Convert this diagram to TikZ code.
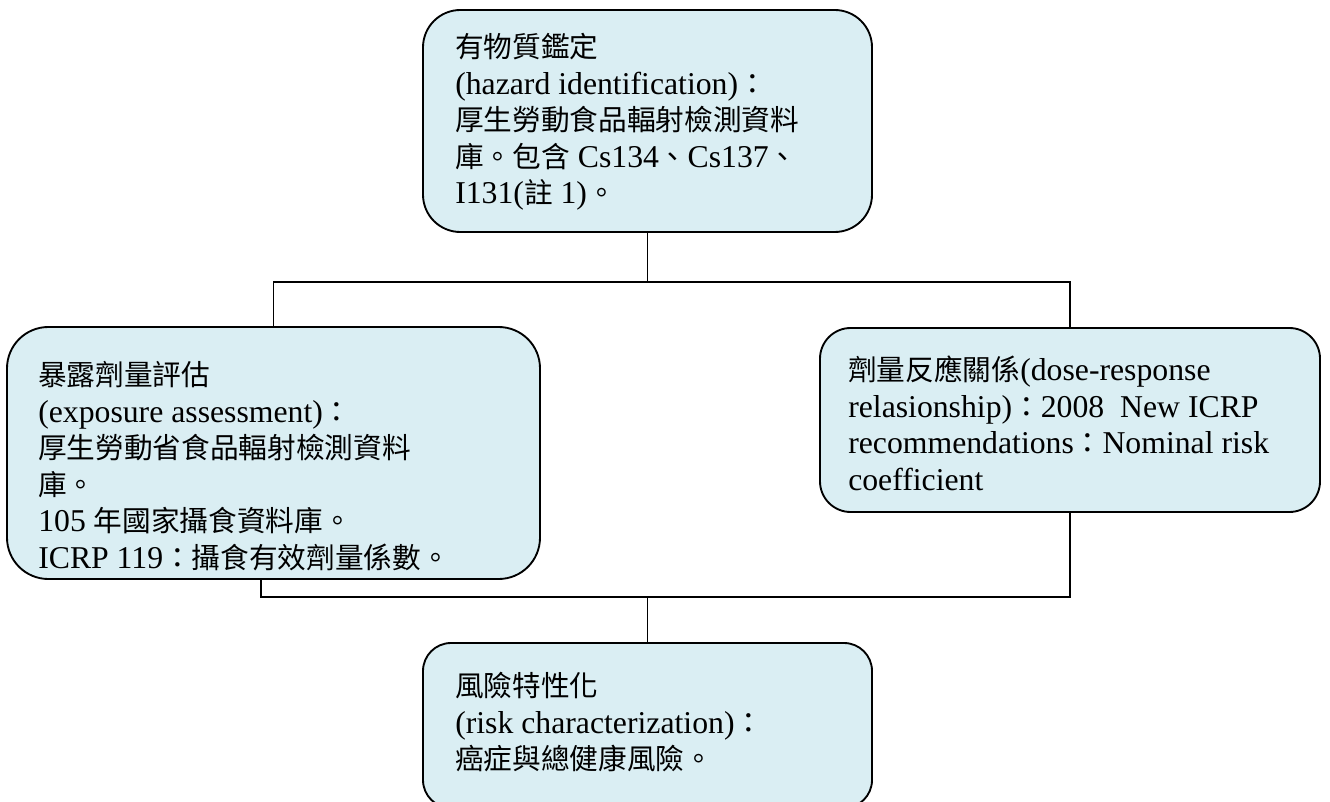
\documentclass[tikz,border=0pt]{standalone}
\usepackage{fontspec}
\setmainfont{Liberation Serif}
\newfontfamily\cjkf{Noto Sans CJK TC}
\newcommand\zh[1]{{\cjkf\fontsize{21.5}{27.4}\selectfont #1}}
\definecolor{boxfill}{HTML}{DAEEF3}
\begin{document}
\begin{tikzpicture}[x=0.75pt,y=-0.75pt,
  box/.style={draw=black,line width=1.4pt,fill=boxfill,inner sep=0pt,outer sep=0pt},
  txt/.style={anchor=north west,align=left,inner sep=0pt,font=\fontsize{23.8}{27.4}\selectfont},
  link/.style={draw=black,line width=1.4pt}]
\useasboundingbox (0,0) rectangle (1330,802);
\node[box,minimum width=449*0.75pt,minimum height=222*0.75pt,rounded corners=28pt] (top) at (647.5,121) {};
\node[box,minimum width=533*0.75pt,minimum height=252*0.75pt,rounded corners=31pt] (left) at (273.5,453) {};
\node[box,minimum width=500*0.75pt,minimum height=184*0.75pt,rounded corners=23pt] (right) at (1070,420) {};
\node[box,minimum width=449*0.75pt,minimum height=165*0.75pt,rounded corners=21pt] (bottom) at (647.5,725.5) {};

\node[txt] (ttop) at (455,33) {\zh{有物質鑑定}\\
(hazard identification)\zh{：}\\
\zh{厚生勞動食品輻射檢測資料}\\
\zh{庫。包含} Cs134\zh{、}Cs137\zh{、}\\
I131(\zh{註} 1)\zh{。}};

\node[txt] (tleft) at (38,361) {\zh{暴露劑量評估}\\
(exposure assessment)\zh{：}\\
\zh{厚生勞動省食品輻射檢測資料}\\
\zh{庫。}\\
105 \zh{年國家攝食資料庫。}\\
ICRP 119\zh{：攝食有效劑量係數。}};

\node[txt] (tright) at (848,356) {\zh{劑量反應關係}(dose-response\\
relasionship)\zh{：}2008~ New ICRP\\
recommendations\zh{：}Nominal risk\\
coefficient};

\node[txt] (tbottom) at (455,672) {\zh{風險特性化}\\
(risk characterization)\zh{：}\\
\zh{癌症與總健康風險。}};

\coordinate (j1) at (647.5,282);
\coordinate (j2) at (647.5,597);
\coordinate (lb) at (261,579);
\draw[link] (top.south) -- (j1);
\draw[link] (left.north) |- (j1) -| (right.north);
\draw[link] (lb) |- (j2) -| (right.south);
\draw[link] (j2) -- (bottom.north);
\end{tikzpicture}
\end{document}
